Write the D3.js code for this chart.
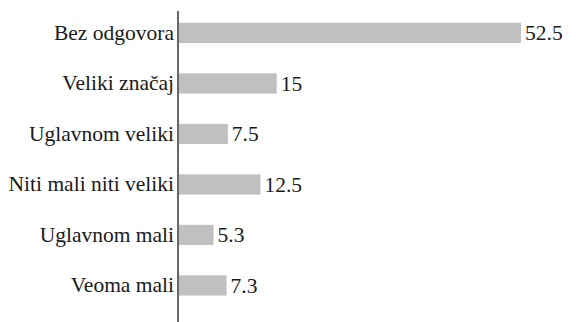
<!DOCTYPE html>
<html>
<head>
<meta charset="utf-8">
<script src="https://cdn.jsdelivr.net/npm/d3@7"></script>
<style>
  html, body { margin: 0; padding: 0; background: #fff; font-family: "Liberation Serif", serif; }
  svg { display: block; }
  #chart text { font-family: "Liberation Serif", serif; }
  .fontwarm { position: absolute; left: 0; top: 0; font-family: "Liberation Serif"; font-size: 1px; color: #fff; }
</style>
</head>
<body>
<div class="fontwarm">&nbsp;</div>
<svg id="chart" width="576" height="322"></svg>
<script>
// Response categories (top to bottom) and their shares
const categories = ["Bez odgovora", "Veliki značaj", "Uglavnom veliki", "Niti mali niti veliki", "Uglavnom mali", "Veoma mali"];
const values = [52.5, 15, 7.5, 12.5, 5.3, 7.3];
const valueLabels = ["52.5", "15", "7.5", "12.5", "5.3", "7.3"];

const svg = d3.select("#chart");
const axisX = 178;
const fontSize = 21.5;
const serif = "'Liberation Serif', serif";

const x = d3.scaleLinear()
  .domain([0, 52.5])
  .range([axisX + 1, 521]);

const y = d3.scaleBand()
  .domain(categories)
  .range([7.7, 310.7])
  .paddingInner(0.6)
  .paddingOuter(0.3);

const rows = categories.map((c, i) => ({ cat: c, v: values[i], label: valueLabels[i] }));

// Bars
svg.selectAll("rect.bar")
  .data(rows)
  .join("rect")
  .attr("class", "bar")
  .attr("x", x(0))
  .attr("y", d => y(d.cat))
  .attr("width", d => x(d.v) - x(0))
  .attr("height", y.bandwidth())
  .attr("fill", "#c0c0c0");

// Category axis: labels on the left, domain replaced by a plain vertical rule
const yAxis = d3.axisLeft(y).tickSize(0).tickPadding(4);
const g = svg.append("g")
  .attr("transform", `translate(${axisX},0)`)
  .call(yAxis)
  .attr("font-family", null)
  .attr("font-size", fontSize);
g.select(".domain").remove();
g.selectAll("text")
  .attr("fill", "#1a1a1a")
  .style("font-family", serif);

svg.append("line")
  .attr("x1", axisX).attr("x2", axisX)
  .attr("y1", 11).attr("y2", 322)
  .attr("stroke", "#404040")
  .attr("stroke-width", 1.6);

// Value labels at the end of each bar
svg.append("g")
  .attr("font-size", fontSize)
  .attr("fill", "#1a1a1a")
  .selectAll("text")
  .data(rows)
  .join("text")
  .style("font-family", serif)
  .attr("x", d => x(d.v) + 4)
  .attr("y", d => y(d.cat) + y.bandwidth() / 2)
  .attr("dy", "0.35em")
  .text(d => d.label);
</script>
</body>
</html>
